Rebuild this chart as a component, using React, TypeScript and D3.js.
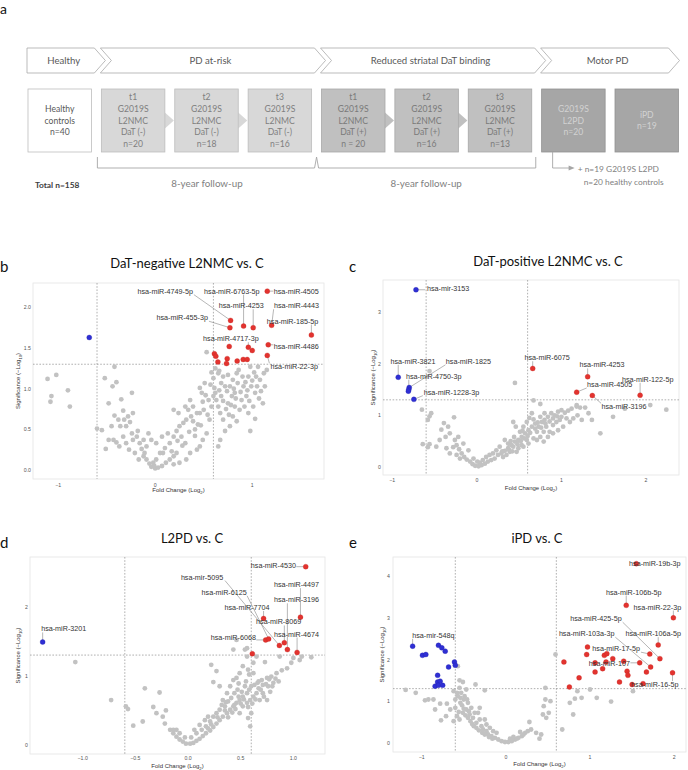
import React from "react";
import * as d3 from "d3";

// ---------------- Panel a : study design ----------------
const stageNames = ["Healthy", "PD at-risk", "Reduced striatal DaT binding", "Motor PD"];
const stageSpans = [[0, 0], [1, 3], [4, 6], [7, 8]];
const boxLines = [
  ["Healthy", "controls", "n=40"],
  ["t1", "G2019S", "L2NMC", "DaT (-)", "n=20"],
  ["t2", "G2019S", "L2NMC", "DaT (-)", "n=18"],
  ["t3", "G2019S", "L2NMC", "DaT (-)", "n=16"],
  ["t1", "G2019S", "L2NMC", "DaT (+)", "n = 20"],
  ["t2", "G2019S", "L2NMC", "DaT (+)", "n=16"],
  ["t3", "G2019S", "L2NMC", "DaT (+)", "n=13"],
  ["G2019S", "L2PD", "n=20"],
  ["iPD", "n=19"],
];
const boxGroup = [0, 1, 1, 1, 2, 2, 2, 3, 3];
const arrowPairs = [[1, 2], [2, 3], [4, 5], [5, 6]];
const followSpans = [[1, 3], [4, 6]];
const followLabel = "8-year follow-up";
const totalLabel = "Total n=158";
const extraLines = ["+ n=19 G2019S L2PD", "n=20 healthy controls"];

// ---------------- Volcano data ----------------
const FC_CUT = 0.6;
const P_CUT = 1.301;

const bGray = [[-1.11,1.12],[-1.02,1.17],[-1.07,0.91],[-1.08,0.84],[-0.9,0.98],[-0.88,0.78],[-0.42,1.27],[-0.52,1.13],[-0.4,1.08],[-0.44,1.03],[-0.24,0.95],[-0.48,0.82],[-0.35,0.87],[-0.42,0.67],[-0.6,0.51],[-0.55,0.49],[-0.51,0.26],[-0.4,0.34],[-0.37,0.29],[-0.32,0.62],[-0.3,0.54],[-0.28,0.66],[-0.26,0.59],[-0.24,0.45],[-0.23,0.37],[-0.21,0.21],[-0.16,0.33],[-0.14,0.26],[-0.12,0.17],[-0.09,0.13],[-0.06,0.08],[-0.04,0.04],[0,0.02],[0.03,0.03],[0.07,0.05],[0.11,0.09],[0.15,0.13],[0.19,0.17],[0.22,0.21],[0.08,0.21],[0.13,0.45],[0.27,0.41],[0.29,0.58],[0.32,0.62],[0.37,0.66],[0.39,0.78],[0.36,0.86],[0.31,0.33],[0.41,0.5],[0.44,0.56],[0.46,0.7],[0.48,0.95],[0.51,1.07],[0.53,1.45],[0.6,1.13],[0.61,1.01],[0.63,0.86],[0.65,0.78],[0.67,0.7],[0.7,0.62],[0.68,0.91],[0.74,0.97],[0.75,0.82],[0.77,1.03],[0.8,1.11],[0.82,0.95],[0.84,1.19],[0.86,1.23],[0.87,0.74],[0.89,0.86],[0.91,1.03],[0.94,0.91],[0.96,1.15],[0.98,1.27],[0.99,1.03],[1.01,0.78],[1.03,0.95],[1.04,1.15],[1.06,1.27],[0.98,0.48],[1.03,0.63],[1.08,1.11],[1.11,0.82],[1.13,1.03],[1.15,1.23],[0.6,0.91],[0.56,0.62],[0.53,0.45],[0.49,0.37],[0.46,0.29],[0.43,0.25],[0.36,0.21],[0.32,0.13],[0.25,0.09],[0.19,0.07],[0.65,0.29],[0.67,0.37],[0.72,0.48],[0.77,0.54],[0.8,0.66],[0.84,0.6],[0.58,0.78],[0.55,0.86],[0.62,1.25],[0.65,1.19],[0.68,1.07],[0.72,1.03],[0.75,1.17],[0.79,0.91],[0.82,0.78],[0.92,0.78],[0.96,0.7],[0.46,1.01],[0.49,0.84],[0.43,0.7],[0.39,0.6],[0.25,0.54],[0.22,0.48],[0.19,0.41],[0.15,0.33],[0.1,0.27],[0.05,0.21],[0.01,0.13],[-0.02,0.09],[-0.11,0.21],[-0.17,0.13],[-0.09,0.29],[-0.12,0.37],[-0.07,0.45],[-0.19,0.41],[-0.36,0.54],[-0.38,0.62],[-0.45,0.54],[-0.48,0.37],[-0.43,0.37],[-0.33,0.41],[-0.3,0.33],[-0.27,0.25],[-0.23,0.7],[0.19,0.74],[0.24,0.7],[0.31,0.78],[0.34,0.74],[0.07,0.41],[0.01,0.33],[-0.04,0.37],[0.58,1.2],[0.62,0.95],[0.66,0.98],[0.7,0.85],[0.73,0.75],[0.76,0.68],[0.78,0.8],[0.81,1.0],[0.83,0.88],[0.85,1.07],[0.88,0.96],[0.9,1.15],[0.93,1.08],[0.95,0.98],[0.97,0.85],[1.0,1.1],[1.02,1.2],[1.05,1.03],[1.07,0.88],[1.09,0.97],[1.12,1.19],[0.7,1.15],[0.66,1.22],[0.57,1.05],[0.52,0.92],[0.5,0.74],[0.54,0.68],[0.47,0.55],[0.41,0.42],[0.35,0.47],[0.28,0.3],[0.23,0.36],[0.17,0.23],[-0.01,0.05],[-0.18,0.48],[-0.33,0.73]];
const bRed = [[1.155,2.2],[0.777,1.84],[0.77,1.75],[0.911,1.77],[1.01,1.75],[1.2,1.78],[1.61,1.66],[0.763,1.52],[0.96,1.51],[1.0,1.47],[1.165,1.54],[0.61,1.43],[0.625,1.4],[0.646,1.33],[0.742,1.37],[0.735,1.31],[0.845,1.34],[0.907,1.36],[0.948,1.36],[1.155,1.41]];
const bBlue = [[-0.68,1.63]];
const bLabels = [
  { n: "hsa-miR-4749-5p", px: 0.777, py: 1.84, lx: 0.103, ly: 2.2 },
  { n: "hsa-miR-6763-5p", px: 0.911, py: 1.77, lx: 0.79, ly: 2.2 },
  { n: "hsa-miR-4505", px: 1.155, py: 2.2, lx: 1.454, ly: 2.2 },
  { n: "hsa-miR-4253", px: 1.01, py: 1.75, lx: 0.887, ly: 2.02 },
  { n: "hsa-miR-4443", px: 1.2, py: 1.78, lx: 1.457, ly: 2.02 },
  { n: "hsa-miR-455-3p", px: 0.77, py: 1.75, lx: 0.278, ly: 1.873 },
  { n: "hsa-miR-185-5p", px: 1.61, py: 1.66, lx: 1.416, ly: 1.832 },
  { n: "hsa-miR-4717-3p", px: 0.96, py: 1.51, lx: 0.78, ly: 1.615 },
  { n: "hsa-miR-4486", px: 1.165, py: 1.54, lx: 1.454, ly: 1.52 },
  { n: "hsa-miR-22-3p", px: 1.155, py: 1.41, lx: 1.433, ly: 1.27 },
];

const cGray = [[0.45,1.63],[-0.56,1.86],[-0.65,1.11],[-0.58,0.91],[-0.56,0.98],[-0.54,1.04],[-0.64,0.44],[-0.56,0.44],[-0.58,0.38],[-0.39,0.85],[-0.42,0.72],[-0.27,0.96],[-0.34,0.78],[-0.32,0.65],[-0.37,0.58],[-0.36,0.36],[-0.28,0.38],[-0.26,0.52],[-0.24,0.42],[-0.21,0.34],[-0.18,0.26],[-0.15,0.19],[-0.12,0.14],[-0.08,0.1],[-0.05,0.05],[-0.02,0.02],[0.02,0.01],[0.055,0.03],[0.095,0.06],[0.13,0.1],[0.17,0.13],[0.21,0.16],[0.25,0.23],[0.29,0.26],[0.33,0.31],[0.37,0.36],[0.41,0.42],[0.45,0.49],[0.49,0.52],[0.53,0.58],[0.57,0.65],[0.61,0.71],[0.65,0.78],[0.69,0.84],[0.73,0.78],[0.77,0.87],[0.8,0.91],[0.84,0.97],[0.88,1.04],[0.92,1.0],[0.96,1.07],[1.0,1.1],[1.04,1.05],[1.08,1.09],[1.12,1.13],[1.18,1.17],[1.22,1.15],[1.28,1.15],[1.36,0.91],[1.46,0.65],[1.61,0.97],[1.75,1.13],[2.05,1.2],[2.24,1.11],[0.43,0.87],[0.46,0.78],[0.51,0.68],[0.55,0.78],[0.59,0.87],[0.67,0.92],[0.71,0.68],[0.75,0.58],[0.79,0.68],[0.82,0.78],[0.86,0.68],[0.9,0.81],[0.94,0.87],[0.98,0.91],[0.75,0.97],[0.8,1.04],[0.65,1.04],[0.59,0.52],[0.53,0.42],[0.49,0.36],[0.43,0.39],[0.37,0.45],[0.33,0.52],[0.27,0.39],[0.23,0.32],[0.19,0.26],[0.15,0.23],[0.11,0.19],[0.07,0.13],[0.035,0.08],[0.31,0.19],[0.35,0.23],[0.39,0.29],[0.47,0.29],[0.55,0.39],[0.61,0.45],[0.67,0.55],[0.71,0.52],[0.79,0.49],[0.84,0.58],[0.9,0.65],[0.96,0.71],[1.02,0.78],[1.1,0.87],[1.14,0.94],[1.19,1.0],[1.24,0.91],[1.32,1.04],[1.06,0.94],[0.67,1.29],[0.75,1.22],[1.18,1.2],[-0.32,0.26],[-0.24,0.23],[-0.2,0.16],[-0.44,0.52],[-0.48,0.39],[-0.22,0.58],[-0.16,0.45],[-0.1,0.32],[-0.04,0.16],[0.005,0.1],[0.4,0.5],[0.44,0.58],[0.48,0.44],[0.52,0.5],[0.56,0.55],[0.6,0.6],[0.63,0.66],[0.69,0.74],[0.72,0.86],[0.76,0.76],[0.81,0.84],[0.86,0.88],[0.9,0.94],[0.95,0.98],[1.0,0.97],[0.62,0.95],[0.54,0.7],[0.38,0.33],[0.42,0.3],[0.3,0.3]];
const cRed = [[0.66,1.91],[1.31,1.75],[1.18,1.45],[1.365,1.385],[1.93,1.39]];
const cBlue = [[-0.72,3.44],[-0.93,1.74],[-0.8,1.54],[-0.805,1.5],[-0.81,1.47],[-0.745,1.31]];
const cLabels = [
  { n: "hsa-mir-3153", px: -0.72, py: 3.44, lx: -0.34, ly: 3.46 },
  { n: "hsa-miR-3821", px: -0.93, py: 1.74, lx: -0.755, ly: 2.05 },
  { n: "hsa-miR-1825", px: -0.8, py: 1.54, lx: -0.1, ly: 2.05 },
  { n: "hsa-miR-4750-3p", px: -0.805, py: 1.5, lx: -0.51, ly: 1.76 },
  { n: "hsa-miR-1228-3p", px: -0.745, py: 1.31, lx: -0.3, ly: 1.45 },
  { n: "hsa-miR-6075", px: 0.66, py: 1.91, lx: 0.83, ly: 2.12 },
  { n: "hsa-miR-4253", px: 1.31, py: 1.75, lx: 1.48, ly: 1.98 },
  { n: "hsa-miR-4505", px: 1.18, py: 1.45, lx: 1.57, ly: 1.6 },
  { n: "hsa-miR-3196", px: 1.365, py: 1.385, lx: 1.74, ly: 1.165 },
  { n: "hsa-miR-122-5p", px: 1.93, py: 1.39, lx: 2.02, ly: 1.7 },
];

const dGray = [[-1.07,1.2],[-0.73,0.65],[-0.59,0.56],[-0.57,0.52],[-0.52,0.28],[-0.43,0.34],[-0.41,0.82],[-0.27,0.76],[-0.33,0.55],[-0.3,0.46],[-0.24,0.41],[-0.21,0.5],[-0.22,0.31],[-0.17,0.22],[-0.14,0.17],[-0.11,0.12],[-0.08,0.08],[-0.05,0.05],[-0.02,0.02],[0.02,0.02],[0.05,0.03],[0.08,0.06],[0.11,0.09],[0.14,0.13],[0.17,0.17],[0.21,0.21],[0.24,0.26],[0.27,0.31],[0.3,0.36],[0.33,0.41],[0.37,0.46],[0.4,0.51],[0.43,0.56],[0.46,0.61],[0.49,0.65],[0.52,0.7],[0.56,0.75],[0.58,0.8],[0.6,0.85],[0.63,0.87],[0.67,0.92],[0.7,0.94],[0.75,0.97],[0.79,0.99],[0.84,1.04],[0.89,1.08],[0.94,1.11],[0.98,1.19],[1.06,1.23],[1.17,1.27],[0.73,1.2],[0.65,1.28],[0.56,1.4],[0.46,1.52],[0.22,1.16],[0.27,1.07],[0.24,0.91],[0.3,0.85],[0.33,0.65],[0.37,0.75],[0.4,0.85],[0.43,0.94],[0.44,0.75],[0.48,0.89],[0.49,1.04],[0.52,1.14],[0.57,1.09],[0.62,1.04],[0.67,0.82],[0.71,0.87],[0.76,0.85],[0.81,0.9],[0.86,0.92],[0.49,0.46],[0.52,0.56],[0.56,0.61],[0.59,0.65],[0.6,0.46],[0.59,0.27],[0.57,0.39],[0.3,0.51],[0.27,0.46],[0.24,0.41],[0.21,0.34],[0.17,0.27],[0.13,0.22],[0.08,0.17],[0.03,0.11],[-0.03,0.11],[-0.08,0.17],[-0.11,0.22],[-0.14,0.22],[0.06,0.22],[0.11,0.29],[0.16,0.36],[0.19,0.41],[0.35,0.56],[0.38,0.63],[0.41,0.68],[0.44,0.58],[0.48,0.7],[0.51,0.77],[0.54,0.85],[0.62,0.7],[0.65,0.75],[0.68,0.65],[0.75,0.65],[0.78,0.77],[0.71,0.75],[0.87,1.28],[1.0,1.26],[1.08,1.28],[0.62,1.19],[0.56,1.28],[0.54,1.38],[0.43,1.38],[0.35,0.5],[0.38,0.4],[0.42,0.47],[0.45,0.52],[0.47,0.8],[0.5,0.6],[0.53,0.66],[0.55,0.92],[0.57,0.55],[0.61,0.6],[0.64,0.66],[0.66,0.9],[0.69,0.8],[0.72,0.7],[0.74,0.88],[0.77,0.95],[0.8,0.85],[0.83,0.96],[0.58,1.02],[0.46,0.97],[0.36,0.62],[0.32,0.58],[0.28,0.4],[0.22,0.3],[0.19,0.24]];
const dRed = [[1.117,2.58],[1.067,1.85],[0.717,1.83],[0.737,1.52],[0.765,1.535],[0.867,1.44],[0.914,1.48],[0.943,1.38],[1.035,1.34],[0.61,1.32]];
const dBlue = [[-1.38,1.49]];
const dLabels = [
  { n: "hsa-miR-3201", px: -1.38, py: 1.49, lx: -1.18, ly: 1.68 },
  { n: "hsa-miR-4530", px: 1.117, py: 2.58, lx: 0.81, ly: 2.59 },
  { n: "hsa-mir-5095", px: 0.867, py: 1.44, lx: 0.133, ly: 2.43 },
  { n: "hsa-miR-4497", px: 1.067, py: 1.85, lx: 1.03, ly: 2.32 },
  { n: "hsa-miR-6125", px: 0.765, py: 1.535, lx: 0.343, ly: 2.21 },
  { n: "hsa-miR-3196", px: 0.943, py: 1.38, lx: 1.03, ly: 2.1 },
  { n: "hsa-miR-7704", px: 0.717, py: 1.83, lx: 0.56, ly: 1.99 },
  { n: "hsa-miR-8069", px: 0.914, py: 1.48, lx: 0.86, ly: 1.78 },
  { n: "hsa-miR-6068", px: 0.737, py: 1.52, lx: 0.43, ly: 1.56 },
  { n: "hsa-miR-4674", px: 1.035, py: 1.34, lx: 1.03, ly: 1.605 },
];

const eGray = [[-1.19,1.27],[-1.07,1.2],[-0.96,1.02],[-0.92,1.04],[-0.86,1.04],[-0.84,0.8],[-0.77,0.54],[-0.71,0.64],[-0.78,0.94],[-0.7,0.94],[-0.66,0.8],[-0.6,0.84],[-0.57,1.84],[-0.55,1.5],[-0.55,1.32],[-0.51,1.46],[-0.47,1.28],[-0.36,1.4],[-0.25,1.26],[-0.62,1.24],[-0.6,1.04],[-0.57,1.12],[-0.53,1.2],[-0.49,1.12],[-0.54,0.96],[-0.5,1.04],[-0.45,0.96],[-0.58,0.64],[-0.62,0.52],[-0.55,0.56],[-0.51,0.72],[-0.47,0.8],[-0.41,0.84],[-0.43,0.68],[-0.39,0.6],[-0.37,0.72],[-0.35,0.48],[-0.31,0.56],[-0.29,0.4],[-0.27,0.32],[-0.23,0.28],[-0.21,0.2],[-0.17,0.16],[-0.13,0.12],[-0.09,0.08],[-0.05,0.04],[-0.01,0.02],[0.03,0.02],[0.07,0.04],[0.11,0.08],[0.15,0.12],[0.19,0.16],[0.17,0.26],[0.09,0.14],[0.05,0.1],[-0.11,0.24],[-0.15,0.28],[-0.19,0.36],[-0.23,0.44],[-0.25,0.56],[-0.33,0.72],[-0.31,0.84],[0.23,0.24],[0.28,0.5],[0.3,0.32],[0.36,0.24],[0.4,0.1],[0.44,0.68],[0.45,0.88],[0.47,1.04],[0.48,0.6],[0.53,1.0],[0.51,0.72],[0.42,0.2],[0.59,2.12],[0.67,0.32],[0.76,0.96],[0.8,0.68],[0.82,1.06],[0.85,1.24],[0.9,1.08],[1.0,1.28],[1.08,1.08],[1.25,0.99],[1.51,1.24],[0.47,1.32],[-0.58,1.2],[-0.54,1.08],[-0.52,0.9],[-0.5,0.82],[-0.48,0.66],[-0.45,0.6],[-0.42,0.52],[-0.4,0.45],[-0.38,0.4],[-0.35,0.36],[-0.32,0.3],[-0.28,0.24],[-0.25,0.2],[-0.2,0.14],[-0.16,0.1],[-0.56,0.74],[-0.46,1.04],[-0.44,0.76],[0.13,0.1],[0.21,0.2],[0.26,0.28]];
const eRed = [[1.55,4.3],[1.43,3.3],[1.99,3.0],[1.81,2.35],[1.83,2.02],[1.72,1.82],[1.71,2.13],[1.59,1.92],[1.98,1.68],[0.69,1.94],[0.755,1.34],[0.87,1.56],[0.97,2.3],[0.96,2.12],[1.06,1.92],[1.06,1.7],[1.15,1.78],[1.17,2.1],[1.2,2.14],[1.27,2.02],[1.19,1.94],[1.4,1.96],[1.44,1.72],[1.45,1.62],[1.35,1.46],[1.5,1.4],[1.63,1.42],[1.67,1.7]];
const eBlue = [[-1.107,2.32],[-0.8,2.34],[-0.76,2.28],[-0.72,2.2],[-0.99,2.1],[-0.95,2.12],[-0.68,1.82],[-0.61,1.94],[-0.6,1.86],[-0.81,1.62],[-0.81,1.46],[-0.78,1.48],[-0.84,1.36],[-0.8,1.38],[-0.75,1.38]];
const eLabels = [
  { n: "hsa-mir-548q", px: -1.107, py: 2.32, lx: -0.86, ly: 2.58 },
  { n: "hsa-miR-19b-3p", px: 1.55, py: 4.3, lx: 1.77, ly: 4.3 },
  { n: "hsa-miR-106b-5p", px: 1.43, py: 3.3, lx: 1.52, ly: 3.62 },
  { n: "hsa-miR-22-3p", px: 1.99, py: 3.0, lx: 1.8, ly: 3.26 },
  { n: "hsa-miR-425-5p", px: 1.83, py: 2.02, lx: 1.07, ly: 2.98 },
  { n: "hsa-miR-103a-3p", px: 1.72, py: 1.82, lx: 0.96, ly: 2.62 },
  { n: "hsa-miR-106a-5p", px: 1.81, py: 2.35, lx: 1.75, ly: 2.62 },
  { n: "hsa-miR-17-5p", px: 1.71, py: 2.13, lx: 1.31, ly: 2.26 },
  { n: "hsa-miR-107", px: 1.59, py: 1.92, lx: 1.23, ly: 1.9 },
  { n: "hsa-miR-16-5p", px: 1.98, py: 1.68, lx: 1.77, ly: 1.4 },
];

const bXTicks = [-1, 0, 1];
const bYTicks = [0, 0.5, 1, 1.5, 2];
const cXTicks = [-1, 0, 1, 2];
const cYTicks = [0, 1, 2, 3];
const dXTicks = [-1, -0.5, 0, 0.5, 1];
const dYTicks = [0, 1, 2];
const eXTicks = [-1, 0, 1, 2];
const eYTicks = [0, 1, 2, 3, 4];

// ---------------- styles / layout ----------------
const LATO = "Lato, 'Open Sans', sans-serif";
const ARIAL = "'Liberation Sans', Arial, sans-serif";
const GRAY_PT = "#c2c2c2";
const RED_PT = "#e2332f";
const BLUE_PT = "#2f2fd4";
const CHAR_W = 3.82;

const layouts = {
  b: { left: 33, right: 324, top: 283, bottom: 479, xd: [-1.26, 1.74], yd: [-0.11, 2.3], letter: [0, 272], title: [187, 268], yTitleX: 18, xTitleY: 492, xTickY: 487, yTickX: 31 },
  c: { left: 383, right: 679, top: 280, bottom: 475, xd: [-1.11, 2.39], yd: [-0.16, 3.63], letter: [349, 272], title: [548, 266], yTitleX: 373, xTitleY: 490, xTickY: 482, yTickX: 381 },
  d: { left: 30, right: 325, top: 557, bottom: 754, xd: [-1.5, 1.3], yd: [-0.13, 2.72], letter: [0, 548], title: [192, 543], yTitleX: 18, xTitleY: 768, xTickY: 760, yTickX: 28 },
  e: { left: 393, right: 686, top: 557, bottom: 752, xd: [-1.34, 2.14], yd: [-0.22, 4.46], letter: [349, 548], title: [537, 543], yTitleX: 382, xTitleY: 766, xTickY: 759, yTickX: 390 },
};

function Volcano({ L, gray, red, blue, labels, xTicks, yTicks, xFmt, yFmt, title, letter }) {
  const xs = d3.scaleLinear().domain(L.xd).range([L.left, L.right]);
  const ys = d3.scaleLinear().domain(L.yd).range([L.bottom, L.top]);
  const cy = (L.top + L.bottom) / 2;
  const cx = (L.left + L.right) / 2;
  const segs = labels.map((l) => {
    const lx = xs(l.lx), ly = ys(l.ly);
    const w = l.n.length * CHAR_W, h = 7;
    const px = xs(l.px), py = ys(l.py);
    const sx = Math.max(lx - w / 2, Math.min(px, lx + w / 2));
    const sy = Math.max(ly - h / 2, Math.min(py, ly + h / 2));
    return { sx, sy, px, py, d: Math.hypot(px - sx, py - sy) };
  });
  return (
    <g>
      <text x={L.letter[0]} y={L.letter[1]} fontFamily={LATO} fontSize={15} fill="#111">{letter}</text>
      <text x={L.title[0]} y={L.title[1]} fontFamily={LATO} fontSize={13} textAnchor="middle" fill="#111">{title}</text>
      <rect x={L.left} y={L.top} width={L.right - L.left} height={L.bottom - L.top} fill="#fff" stroke="#e4e4e4" strokeWidth={0.8} />
      {[-FC_CUT, FC_CUT].map((v) => (
        <line key={v} x1={xs(v)} x2={xs(v)} y1={L.top} y2={L.bottom} stroke="#7a7a7a" strokeWidth={0.6} strokeDasharray="1.6,1.6" />
      ))}
      <line x1={L.left} x2={L.right} y1={ys(P_CUT)} y2={ys(P_CUT)} stroke="#7a7a7a" strokeWidth={0.6} strokeDasharray="1.6,1.6" />
      {xTicks.map((t) => (
        <text key={"x" + t} x={xs(t)} y={L.xTickY} fontFamily={ARIAL} fontSize={5.2} fill="#555" textAnchor="middle">{xFmt(t)}</text>
      ))}
      {yTicks.map((t) => (
        <text key={"y" + t} x={L.yTickX} y={ys(t)} fontFamily={ARIAL} fontSize={5.2} fill="#555" textAnchor="end" dominantBaseline="central">{yFmt(t)}</text>
      ))}
      <text x={cx} y={L.xTitleY} fontFamily={ARIAL} fontSize={6} fill="#333" textAnchor="middle">
        Fold Change (Log<tspan fontSize={4.2} dy={1.5}>2</tspan><tspan dy={-1.5}>)</tspan>
      </text>
      <text transform={`translate(${L.yTitleX},${cy}) rotate(-90)`} fontFamily={ARIAL} fontSize={6} fill="#333" textAnchor="middle" dominantBaseline="central">
        Significance (−Log<tspan fontSize={4.2} dy={1.5}>10</tspan><tspan dy={-1.5}>)</tspan>
      </text>
      {gray.map((p, i) => (
        <circle key={"g" + i} cx={xs(p[0])} cy={ys(p[1])} r={2.4} fill={GRAY_PT} />
      ))}
      {segs.filter((s) => s.d > 4).map((s, i) => (
        <line key={"s" + i} x1={s.sx} y1={s.sy} x2={s.px} y2={s.py} stroke="#6e6e6e" strokeWidth={0.5} />
      ))}
      {red.map((p, i) => (
        <circle key={"r" + i} cx={xs(p[0])} cy={ys(p[1])} r={2.5} fill={RED_PT} stroke="#c42420" strokeWidth={0.3} />
      ))}
      {blue.map((p, i) => (
        <circle key={"b" + i} cx={xs(p[0])} cy={ys(p[1])} r={2.5} fill={BLUE_PT} stroke="#2020a8" strokeWidth={0.3} />
      ))}
      {labels.map((l, i) => (
        <text key={"l" + i} x={xs(l.lx)} y={ys(l.ly)} fontFamily={ARIAL} fontSize={7.2} fill="#333" textAnchor="middle" dominantBaseline="central">{l.n}</text>
      ))}
    </g>
  );
}

function StudyDesign() {
  const boxW = 63.5;
  const bx = d3.scaleLinear().domain([0, 8]).range([28, 615]);
  const boxTop = 89, boxBot = 152, boxMid = (boxTop + boxBot) / 2;
  const chevTop = 48, chevBot = 73, chevMid = (chevTop + chevBot) / 2;
  const depth = 11;
  const fills = ["#ffffff", "#d8d8d8", "#c0c0c0", "#a6a6a6"];
  const strokes = ["#bdbdbd", "#bdbdbd", "#a8a8a8", "#929292"];
  const txtCol = ["#595959", "#7f7f7f", "#7a7a7a", "#d2d2d2"];
  const lineStep = 11.7;
  const chev = stageSpans.map((s, i) => {
    const left = bx(s[0]) - 1;
    const bodyRight = i < stageSpans.length - 1 ? bx(stageSpans[i + 1][0]) - 1 - 6 : bx(s[1]) + boxW - 10;
    const tip = bodyRight + depth;
    const notch = i === 0 ? null : left + depth;
    const pts = [[left, chevTop], [bodyRight, chevTop], [tip, chevMid], [bodyRight, chevBot], [left, chevBot]];
    if (notch !== null) pts.push([notch, chevMid]);
    return { pts, textX: (left + bodyRight) / 2 + 3 };
  });
  const brY0 = 157, brY1 = 168;
  const mid = (bx(3) + boxW + bx(4)) / 2;
  return (
    <g>
      <text x={0} y={14} fontFamily={LATO} fontSize={14} fill="#111">a</text>
      {chev.map((c, i) => (
        <g key={i}>
          <polygon points={c.pts.map((p) => p.join(",")).join(" ")} fill="#fff" stroke="#a9a9a9" strokeWidth={0.8} />
          <text x={c.textX} y={chevMid} fontFamily={LATO} fontSize={9.6} fill="#595959" textAnchor="middle" dominantBaseline="central">{stageNames[i]}</text>
        </g>
      ))}
      {arrowPairs.map(([a], i) => {
        const x0 = bx(a) + boxW;
        const g = boxGroup[a];
        return <polygon key={"ar" + i} points={`${x0},${boxMid - 8} ${x0 + 9},${boxMid} ${x0},${boxMid + 8}`} fill={fills[g]} />;
      })}
      {boxLines.map((lines, i) => {
        const g = boxGroup[i];
        const x = bx(i);
        const y0 = boxMid - ((lines.length - 1) * lineStep) / 2;
        return (
          <g key={"bx" + i}>
            <rect x={x} y={boxTop} width={boxW} height={boxBot - boxTop} fill={fills[g]} stroke={strokes[g]} strokeWidth={0.8} />
            {lines.map((t, j) => (
              <text key={j} x={x + boxW / 2} y={y0 + j * lineStep} fontFamily={LATO} fontSize={8.6} fill={txtCol[g]} textAnchor="middle" dominantBaseline="central">{t}</text>
            ))}
          </g>
        );
      })}
      {followSpans.map((s, i) => {
        const x0 = i === 0 ? bx(s[0]) - 4 : mid;
        const x1 = i === 0 ? mid : bx(s[1]) + boxW + 4;
        const p = i === 0
          ? `M${x0},${brY0} V${brY1} H${x1 - 2} L${x1},${brY0}`
          : `M${x0},${brY0} L${x0 + 2},${brY1} H${x1} V${brY0}`;
        return (
          <g key={"fs" + i}>
            <path d={p} fill="none" stroke="#a6a6a6" strokeWidth={0.9} />
            <text x={(x0 + x1) / 2} y={183} fontFamily={LATO} fontSize={9.8} fill="#808080" textAnchor="middle" dominantBaseline="central">{followLabel}</text>
          </g>
        );
      })}
      <text x={35} y={185} fontFamily={LATO} fontSize={8.4} fontWeight="bold" fill="#404040" dominantBaseline="central">{totalLabel}</text>
      <path d={`M${bx(7) + 11},${boxBot} V168 H${bx(7) + 28}`} fill="none" stroke="#a6a6a6" strokeWidth={0.9} />
      <polygon points={`${bx(7) + 27},165.5 ${bx(7) + 33},168 ${bx(7) + 27},170.5`} fill="#a6a6a6" />
      <text x={bx(7) + 36} y={169} fontFamily={LATO} fontSize={8.4} fill="#7f7f7f" dominantBaseline="central">{extraLines[0]}</text>
      <text x={bx(7) + 42} y={182} fontFamily={LATO} fontSize={8.4} fill="#7f7f7f" dominantBaseline="central">{extraLines[1]}</text>
    </g>
  );
}

const fmtDec1 = (v) => d3.format(".1f")(v);
const fmtInt = (v) => d3.format("d")(v);

export default function App() {
  return (
    <svg width={688} height={770} style={{ position: "absolute", left: 0, top: 0, background: "#fff" }}>
      <rect x={0} y={0} width={688} height={770} fill="#fff" />
      <StudyDesign />
      <Volcano L={layouts.b} gray={bGray} red={bRed} blue={bBlue} labels={bLabels} xTicks={bXTicks} yTicks={bYTicks} xFmt={fmtInt} yFmt={fmtDec1} title="DaT-negative L2NMC vs. C" letter="b" />
      <Volcano L={layouts.c} gray={cGray} red={cRed} blue={cBlue} labels={cLabels} xTicks={cXTicks} yTicks={cYTicks} xFmt={fmtInt} yFmt={fmtInt} title="DaT-positive L2NMC vs. C" letter="c" />
      <Volcano L={layouts.d} gray={dGray} red={dRed} blue={dBlue} labels={dLabels} xTicks={dXTicks} yTicks={dYTicks} xFmt={fmtDec1} yFmt={fmtInt} title="L2PD vs. C" letter="d" />
      <Volcano L={layouts.e} gray={eGray} red={eRed} blue={eBlue} labels={eLabels} xTicks={eXTicks} yTicks={eYTicks} xFmt={fmtInt} yFmt={fmtInt} title="iPD vs. C" letter="e" />
    </svg>
  );
}
